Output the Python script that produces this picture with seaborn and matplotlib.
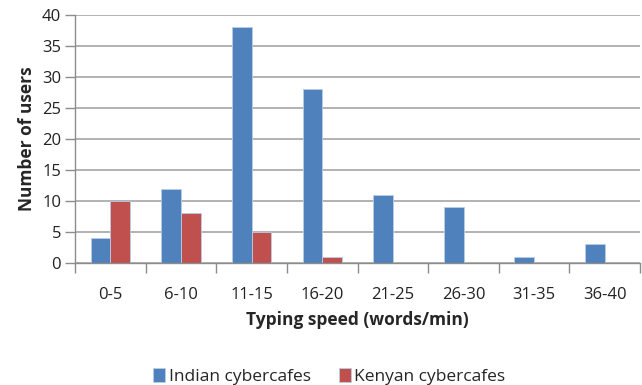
import matplotlib
matplotlib.use("Agg")
import matplotlib.pyplot as plt
import seaborn as sns
import pandas as pd

categories = ["0-5", "6-10", "11-15", "16-20", "21-25", "26-30", "31-35", "36-40"]
indian = [4, 12, 38, 28, 11, 9, 1, 3]
kenyan = [10, 8, 5, 1, 0, 0, 0, 0]
series = ["Indian cybercafes", "Kenyan cybercafes"]

df = pd.DataFrame({
    "speed": categories * 2,
    "users": indian + kenyan,
    "site": [series[0]] * len(categories) + [series[1]] * len(categories),
})

sns.set_theme(style="white")
plt.rcParams["font.family"] = ["Open Sans", "DejaVu Sans"]

fig = plt.figure(figsize=(6.42, 3.85), dpi=100)
ax = fig.add_axes([0.117, 0.317, 0.880, 0.644])

sns.barplot(data=df, x="speed", y="users", hue="site", order=categories,
            palette=["#4F81BD", "#C0504D"], saturation=1, width=0.56, ax=ax,
            edgecolor="#B9CDE5", linewidth=0.6, legend=True)

ax.set_xlim(-0.5, 7.5)
ax.set_ylim(0, 40)
ax.set_yticks(range(0, 41, 5))
ax.yaxis.grid(True, color="#A6A6A6", linewidth=1.2)
ax.set_axisbelow(True)
for s in ["top", "right"]:
    ax.spines[s].set_visible(False)
for s in ["left", "bottom"]:
    ax.spines[s].set_color("#8C8C8C")
    ax.spines[s].set_linewidth(1.0)

ax.set_xticks([i - 0.5 for i in range(9)], minor=True)
ax.tick_params(axis="x", which="major", length=0, labelsize=12, colors="#222222", pad=17)
ax.tick_params(axis="x", which="minor", length=7, width=1.0, color="#8C8C8C", direction="out")
ax.tick_params(axis="y", length=7, width=1.0, color="#8C8C8C", direction="out", labelsize=12, labelcolor="#222222", pad=3)
ax.tick_params(bottom=True, left=True, which="both")

ax.set_xlabel("Typing speed (words/min)", fontsize=12.5, fontweight="bold", labelpad=6)
ax.set_ylabel("Number of users", fontsize=12.5, fontweight="bold", labelpad=4)

ax.legend(loc="upper center", bbox_to_anchor=(0.45, -0.36), ncol=2, frameon=False,
          fontsize=12.5, handlelength=0.7, handleheight=0.9, handletextpad=0.2, columnspacing=1.6)

fig.savefig("out.png", dpi=100)
